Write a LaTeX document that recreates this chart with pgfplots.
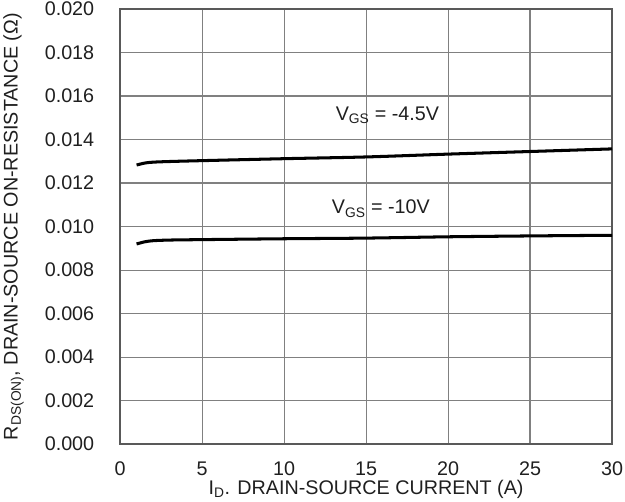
\documentclass[border=0pt]{standalone}
\usepackage{fontspec}
\setmainfont{Liberation Sans}
\usepackage{pgfplots}
\pgfplotsset{compat=1.18}
\begin{document}
\begin{tikzpicture}
\begin{axis}[
  scale only axis,
  width=486pt, height=430pt,
  xmin=0, xmax=30, ymin=0, ymax=0.020,
  xtick={0,5,...,30},
  ytick={0,0.002,0.004,0.006,0.008,0.010,0.012,0.014,0.016,0.018,0.020},
  scaled y ticks=false,
  /pgf/number format/assume math mode=true,
  yticklabel style={/pgf/number format/fixed,/pgf/number format/fixed zerofill,/pgf/number format/precision=3, inner sep=2pt, xshift=-23.5pt},
  xticklabel style={inner sep=2pt, yshift=-15pt},
  tick label style={font=\fontsize{19.5}{22}\selectfont, text=black!88},
  label style={font=\fontsize{19.5}{22}\selectfont, text=black!88},
  grid=major,
  major grid style={black!50, line width=1.1pt},
  axis line style={black!65, line width=2.2pt},
  major tick length=0pt,
  xlabel={I\textsubscript{D}. DRAIN-SOURCE CURRENT (A)},
  ylabel={R\textsubscript{DS(ON)}, DRAIN-SOURCE ON-RESISTANCE (Ω)},
  xlabel style={at={(axis description cs:0.5,-0.0745)}, anchor=north},
  ylabel style={at={(axis description cs:-0.189,0.5)}, anchor=south},
  clip=false,
]
\addplot[black, line width=3pt, smooth] coordinates {
 (1,0.01283) (1.5,0.01292) (2,0.01296) (3,0.01299) (5,0.01303) (10,0.01312) (15,0.01320) (20,0.01333) (25,0.01345) (30,0.01357)};
\addplot[black, line width=3pt, smooth] coordinates {
 (1,0.00920) (1.5,0.00930) (2,0.00935) (3,0.00938) (5,0.00940) (10,0.00944) (15,0.00947) (20,0.00953) (25,0.00957) (30,0.00960)};
\node[font=\fontsize{19.5}{22}\selectfont, text=black!88] at (axis cs:16.3,0.01510) {V\textsubscript{GS} = -4.5V};
\node[font=\fontsize{19.5}{22}\selectfont, text=black!88] at (axis cs:15.9,0.01082) {V\textsubscript{GS} = -10V};
\end{axis}
\end{tikzpicture}
\end{document}
